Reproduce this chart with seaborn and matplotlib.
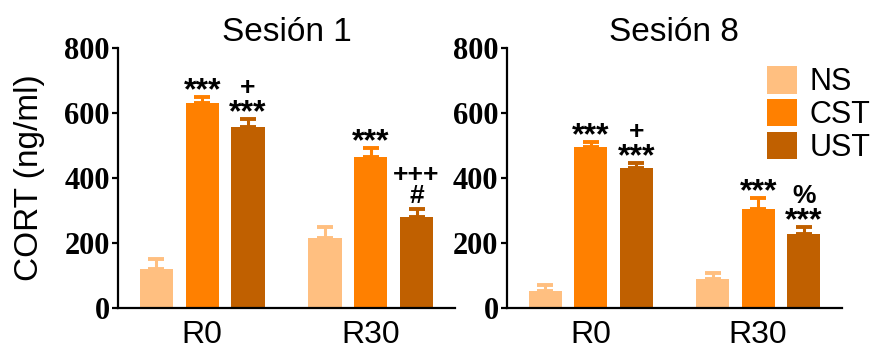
import matplotlib
matplotlib.use('Agg')
import matplotlib.pyplot as plt
import seaborn as sns
import pandas as pd
from matplotlib.patches import Patch

# data
sessions = ['Sesión 1', 'Sesión 8']
groups = ['R0', 'R30']
conditions = ['NS', 'CST', 'UST']
colors = ['#FFBF80', '#FF8000', '#C06000']

# means per session: [condition][group]
s1_mean = [[120, 215], [631, 465], [557, 280]]
s1_sem = [[31, 34], [18, 27], [24, 24]]
s8_mean = [[52, 89], [495, 305], [431, 228]]
s8_sem = [[19, 19], [16, 33], [15, 21]]

# significance marks, bottom line first
s1_marks = [[[], []], [['***'], ['***']], [['***', '+'], ['#', '+++']]]
s8_marks = [[[], []], [['***'], ['***']], [['***', '+'], ['***', '%']]]

means = [s1_mean, s8_mean]
sems = [s1_sem, s8_sem]
marks = [s1_marks, s8_marks]

sns.set_style('white')
plt.rcParams['font.family'] = ['Liberation Sans', 'DejaVu Sans']
plt.rcParams['text.color'] = 'black'
plt.rcParams['axes.labelcolor'] = 'black'
plt.rcParams['xtick.color'] = 'black'
plt.rcParams['ytick.color'] = 'black'

fig = plt.figure(figsize=(8.74, 3.49), dpi=100)
ax1 = fig.add_axes([0.135, 0.1175, 0.3856, 0.745])
ax2 = fig.add_axes([0.580, 0.1175, 0.3833, 0.745])
axes = [ax1, ax2]

px = 0.72  # points per pixel at dpi 100

for i, ax in enumerate(axes):
    rows = []
    for c, cond in enumerate(conditions):
        for g, grp in enumerate(groups):
            rows.append({'grupo': grp, 'cond': cond, 'cort': means[i][c][g]})
    df = pd.DataFrame(rows)
    sns.barplot(data=df, x='grupo', y='cort', hue='cond', order=groups,
                hue_order=conditions, palette=colors, saturation=1,
                errorbar=None, width=0.815, gap=0.276, linewidth=0,
                legend=False, ax=ax)

    # error bars (upper only) + marks
    bar_conts = list(ax.containers)
    for c, cont in enumerate(bar_conts):
        for g, bar in enumerate(cont.patches):
            xc = bar.get_x() + bar.get_width() / 2
            h = bar.get_height()
            e = sems[i][c][g]
            ax.errorbar(xc, h, yerr=[[0], [e]], fmt='none', ecolor=colors[c],
                        elinewidth=2.2, capsize=6, capthick=2.8, zorder=3)
            lines = marks[i][c][g]
            if not lines:
                continue
            # star lines sit lower in the em box
            base, step = (-2, 26) if '*' in lines[0] else (6, 21)
            for k, m in enumerate(lines):
                ax.annotate(m, xy=(xc, h + e), xytext=(0, (base + step * k) * px),
                            textcoords='offset points', ha='center',
                            va='baseline', fontsize=23 if '*' in m else 19,
                            fontweight='bold', annotation_clip=False)

    ax.set_xlim(-0.5, 1.5)
    ax.set_ylim(0, 800)
    ax.set_yticks([0, 200, 400, 600, 800])
    ax.set_xlabel('')
    ax.set_ylabel('')
    ax.set_title(sessions[i], fontsize=24, pad=5)
    for s in ['top', 'right']:
        ax.spines[s].set_visible(False)
    for s in ['left', 'bottom']:
        ax.spines[s].set_linewidth(1.6)
        ax.spines[s].set_color('black')
    ax.tick_params(axis='y', length=4, width=1.6, pad=2, left=True)
    ax.tick_params(axis='x', length=0, pad=9, labelsize=23)
    for lab in ax.get_yticklabels():
        lab.set_fontfamily('Liberation Serif')
        lab.set_fontweight('bold')
        lab.set_fontsize(22)

ax1.set_ylabel('CORT (ng/ml)', fontsize=24, labelpad=14)

handles = [Patch(facecolor=col, edgecolor='none') for col in colors]
ax2.legend(handles, conditions, loc='upper left', bbox_to_anchor=(0.776, 0.93),
           frameon=False, fontsize=22, handlelength=1.0, handleheight=1.0,
           handletextpad=0.4, labelspacing=0.05, borderpad=0, borderaxespad=0)

fig.savefig('out.png', dpi=100)
